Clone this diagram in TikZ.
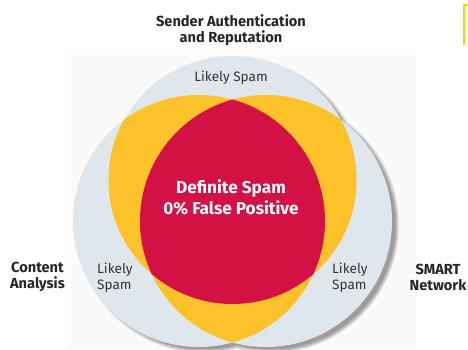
\documentclass[tikz,border=0pt]{standalone}
\usepackage{fontspec}
\setmainfont{Fira Sans}
\usepackage{xcolor}
\definecolor{venngrey}{HTML}{DFE7EC}
\definecolor{vennyellow}{HTML}{FDC12A}
\definecolor{venncrimson}{HTML}{D31145}
\definecolor{textgrey}{HTML}{333333}
\definecolor{tabyellow}{HTML}{FFD500}
\tikzset{
  headlabel/.style={font=\fontsize{14.6}{16}\selectfont\bfseries, text=black!85, align=center, inner sep=0pt},
  zonelabel/.style={font=\fontsize{13.6}{16}\selectfont, text=textgrey, align=left, inner sep=0pt},
  corelabel/.style={font=\fontsize{17.2}{21}\selectfont\bfseries, text=white, align=center, inner sep=0pt}
}
\begin{document}
\begin{tikzpicture}[x=1pt,y=1pt]
\useasboundingbox (0,0) rectangle (468,349);
\fill[black!2] (65,0) rectangle (417,300);
\draw[tabyellow,line width=2pt] (470,344) -- (464,344) -- (464,304);
\coordinate (sa) at (232.5,169);
\coordinate (ca) at (199,128);
\coordinate (sn) at (266,128);
% shadow
\foreach \k in {0,...,7}{
\fill[black,opacity=0.055] ([shift={(5,-4)}]sa) circle (122pt+0.6pt*\k)
  ([shift={(5,-4)}]ca) circle (124pt+0.6pt*\k) ([shift={(5,-4)}]sn) circle (124pt+0.6pt*\k);
}
% circles
\fill[venngrey] (sa) circle (124pt) (ca) circle (126pt) (sn) circle (126pt);
\begin{scope}
\clip (sa) circle (124pt);
\fill[vennyellow] (ca) circle (126pt) (sn) circle (126pt);
\end{scope}
\begin{scope}
\clip (ca) circle (126pt);
\fill[vennyellow] (sn) circle (126pt);
\clip (sn) circle (126pt);
\fill[venncrimson] (sa) circle (124pt);
\end{scope}
% labels
\node[headlabel] (sahead) at (231,319) {Sender Authentication\\and Reputation};
\node[headlabel] (cahead) at (37.5,72) {Content\\Analysis};
\node[headlabel] (snhead) at (438,72) {SMART\\Network};
\node[zonelabel,anchor=base] (salikely) at (231,268) {Likely Spam};
\node[zonelabel,anchor=west] (calikely) at (97,71) {Likely\\Spam};
\node[zonelabel,anchor=west] (snlikely) at (332,71) {Likely\\Spam};
\node[corelabel] (core) at (231,151.5) {Definite Spam\\0\% False Positive};
\end{tikzpicture}
\end{document}
